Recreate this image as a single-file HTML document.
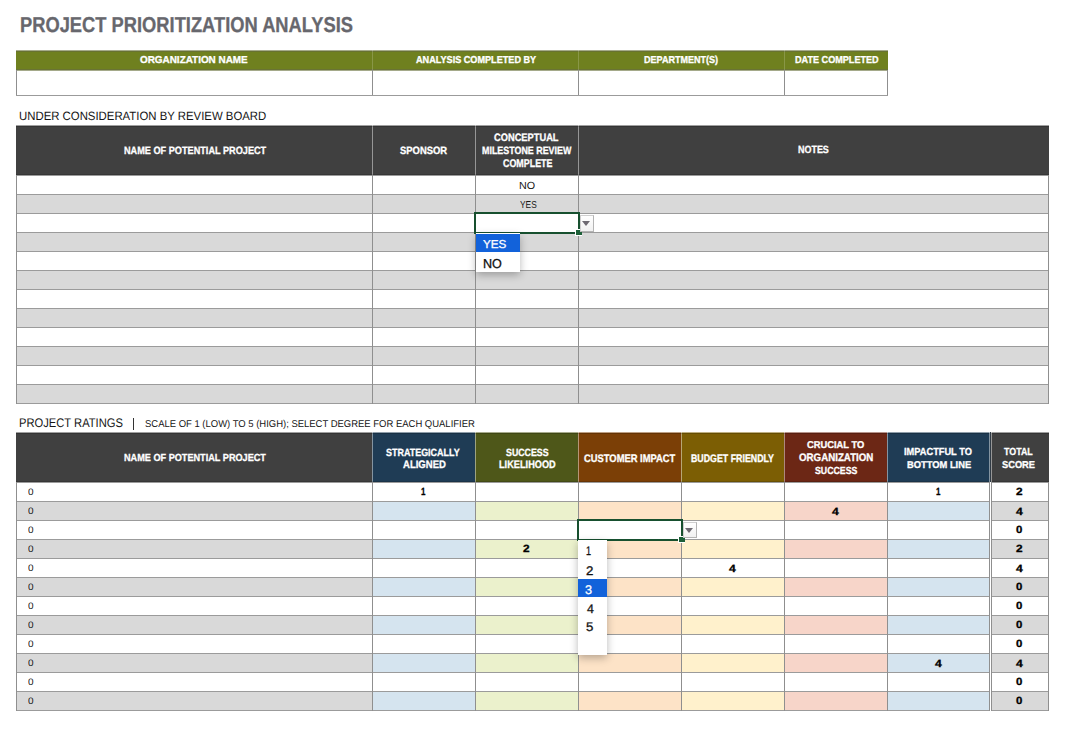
<!DOCTYPE html><html><head><meta charset="utf-8"><title>Project Prioritization Analysis</title><style>
html,body{margin:0;padding:0;background:#fff;width:1067px;height:737px;overflow:hidden}
body{position:relative;font-family:"Liberation Sans",sans-serif}
.r{position:absolute}
.t{position:absolute;white-space:nowrap;transform-origin:0 0;text-rendering:geometricPrecision}
.pt{-webkit-text-stroke:0.3px currentColor}
.bt{-webkit-text-stroke:0.3px currentColor}
.sel{position:absolute;border:2px solid #17502f}
.btn{position:absolute;border:1px solid #b4b4b4;border-top-color:#cfcfcf;border-left-color:#cfcfcf;background:linear-gradient(#ffffff,#f1f1f1)}
.tri{position:absolute;left:1px;top:5px;width:0;height:0;border-left:4.5px solid transparent;border-right:4.5px solid transparent;border-top:5px solid #6e6a72}
.pop{position:absolute;background:#fff;box-shadow:0 3px 8px rgba(0,0,0,0.28)}
.hl{position:absolute;left:0;right:0;background:#1262da}
</style></head><body>
<div class="r" style="left:16px;top:50px;width:872px;height:21px;background:#6f801f;"></div>
<div class="r" style="left:16px;top:50px;width:872px;height:1px;background:#a6ab8c;"></div>
<div class="r" style="left:16px;top:51px;width:872px;height:1px;background:#687231;"></div>
<div class="r" style="left:16px;top:69px;width:872px;height:1px;background:#697334;"></div>
<div class="r" style="left:16px;top:70px;width:872px;height:1px;background:#a5aa8a;"></div>
<div class="r" style="left:372px;top:50px;width:1px;height:20px;background:rgba(255,255,255,0.18);"></div>
<div class="r" style="left:578px;top:50px;width:1px;height:20px;background:rgba(255,255,255,0.18);"></div>
<div class="r" style="left:784px;top:50px;width:1px;height:20px;background:rgba(255,255,255,0.18);"></div>
<div class="r" style="left:16px;top:70px;width:1px;height:26px;background:#8f8f8f;"></div>
<div class="r" style="left:887px;top:70px;width:1px;height:26px;background:#8f8f8f;"></div>
<div class="r" style="left:372px;top:70px;width:1px;height:26px;background:#8f8f8f;"></div>
<div class="r" style="left:578px;top:70px;width:1px;height:26px;background:#8f8f8f;"></div>
<div class="r" style="left:784px;top:70px;width:1px;height:26px;background:#8f8f8f;"></div>
<div class="r" style="left:16px;top:95px;width:872px;height:1px;background:#9b9b9b;"></div>
<div class="r" style="left:16px;top:125px;width:1033px;height:50px;background:#404040;"></div>
<div class="r" style="left:372px;top:125px;width:1px;height:50px;background:rgba(255,255,255,0.45);"></div>
<div class="r" style="left:475px;top:125px;width:1px;height:50px;background:rgba(255,255,255,0.45);"></div>
<div class="r" style="left:578px;top:125px;width:1px;height:50px;background:rgba(255,255,255,0.45);"></div>
<div class="r" style="left:16px;top:125px;width:1033px;height:1px;background:rgba(255,255,255,0.5);"></div>
<div class="r" style="left:16px;top:126px;width:1033px;height:1px;background:rgba(0,0,0,0.18);"></div>
<div class="r" style="left:16px;top:174px;width:1033px;height:1px;background:rgba(0,0,0,0.15);"></div>
<div class="r" style="left:16px;top:175px;width:1033px;height:1px;background:#9b9b9b;"></div>
<div class="r" style="left:16px;top:194px;width:1033px;height:19px;background:#d9d9d9;"></div>
<div class="r" style="left:16px;top:232px;width:1033px;height:19px;background:#d9d9d9;"></div>
<div class="r" style="left:16px;top:270px;width:1033px;height:19px;background:#d9d9d9;"></div>
<div class="r" style="left:16px;top:308px;width:1033px;height:19px;background:#d9d9d9;"></div>
<div class="r" style="left:16px;top:346px;width:1033px;height:19px;background:#d9d9d9;"></div>
<div class="r" style="left:16px;top:384px;width:1033px;height:19px;background:#d9d9d9;"></div>
<div class="r" style="left:16px;top:194px;width:1033px;height:1px;background:#9b9b9b;"></div>
<div class="r" style="left:16px;top:213px;width:1033px;height:1px;background:#9b9b9b;"></div>
<div class="r" style="left:16px;top:232px;width:1033px;height:1px;background:#9b9b9b;"></div>
<div class="r" style="left:16px;top:251px;width:1033px;height:1px;background:#9b9b9b;"></div>
<div class="r" style="left:16px;top:270px;width:1033px;height:1px;background:#9b9b9b;"></div>
<div class="r" style="left:16px;top:289px;width:1033px;height:1px;background:#9b9b9b;"></div>
<div class="r" style="left:16px;top:308px;width:1033px;height:1px;background:#9b9b9b;"></div>
<div class="r" style="left:16px;top:327px;width:1033px;height:1px;background:#9b9b9b;"></div>
<div class="r" style="left:16px;top:346px;width:1033px;height:1px;background:#9b9b9b;"></div>
<div class="r" style="left:16px;top:365px;width:1033px;height:1px;background:#9b9b9b;"></div>
<div class="r" style="left:16px;top:384px;width:1033px;height:1px;background:#9b9b9b;"></div>
<div class="r" style="left:16px;top:403px;width:1033px;height:1px;background:#9b9b9b;"></div>
<div class="r" style="left:16px;top:175px;width:1px;height:229px;background:#8f8f8f;"></div>
<div class="r" style="left:372px;top:175px;width:1px;height:229px;background:#8f8f8f;"></div>
<div class="r" style="left:475px;top:175px;width:1px;height:229px;background:#8f8f8f;"></div>
<div class="r" style="left:578px;top:175px;width:1px;height:229px;background:#8f8f8f;"></div>
<div class="r" style="left:1048px;top:175px;width:1px;height:229px;background:#8f8f8f;"></div>
<div class="r" style="left:132.5px;top:418px;width:1.5px;height:12px;background:#333333;"></div>
<div class="r" style="left:16px;top:432px;width:356px;height:50px;background:#404040;"></div>
<div class="r" style="left:372px;top:432px;width:103px;height:50px;background:#1f3c55;"></div>
<div class="r" style="left:475px;top:432px;width:103px;height:50px;background:#4e5719;"></div>
<div class="r" style="left:578px;top:432px;width:103px;height:50px;background:#7b3f06;"></div>
<div class="r" style="left:681px;top:432px;width:103px;height:50px;background:#7c5e04;"></div>
<div class="r" style="left:784px;top:432px;width:103px;height:50px;background:#6c2715;"></div>
<div class="r" style="left:887px;top:432px;width:103px;height:50px;background:#1f3c55;"></div>
<div class="r" style="left:990px;top:432px;width:59px;height:50px;background:#404040;"></div>
<div class="r" style="left:372px;top:432px;width:1px;height:50px;background:rgba(255,255,255,0.45);"></div>
<div class="r" style="left:475px;top:432px;width:1px;height:50px;background:rgba(255,255,255,0.45);"></div>
<div class="r" style="left:578px;top:432px;width:1px;height:50px;background:rgba(255,255,255,0.45);"></div>
<div class="r" style="left:681px;top:432px;width:1px;height:50px;background:rgba(255,255,255,0.45);"></div>
<div class="r" style="left:784px;top:432px;width:1px;height:50px;background:rgba(255,255,255,0.45);"></div>
<div class="r" style="left:887px;top:432px;width:1px;height:50px;background:rgba(255,255,255,0.45);"></div>
<div class="r" style="left:16px;top:432px;width:1033px;height:1px;background:rgba(255,255,255,0.5);"></div>
<div class="r" style="left:16px;top:433px;width:1033px;height:1px;background:rgba(0,0,0,0.18);"></div>
<div class="r" style="left:16px;top:481px;width:1033px;height:1px;background:rgba(0,0,0,0.15);"></div>
<div class="r" style="left:16px;top:482px;width:1033px;height:1px;background:#9b9b9b;"></div>
<div class="r" style="left:989px;top:432px;width:1px;height:50px;background:rgba(255,255,255,0.45);"></div>
<div class="r" style="left:990px;top:432px;width:1px;height:50px;background:#303a44;"></div>
<div class="r" style="left:991px;top:432px;width:1px;height:50px;background:rgba(255,255,255,0.45);"></div>
<div class="r" style="left:16px;top:501px;width:356px;height:19px;background:#d9d9d9;"></div>
<div class="r" style="left:372px;top:501px;width:103px;height:19px;background:#d5e4ef;"></div>
<div class="r" style="left:475px;top:501px;width:103px;height:19px;background:#ebf1cc;"></div>
<div class="r" style="left:578px;top:501px;width:103px;height:19px;background:#fde3c7;"></div>
<div class="r" style="left:681px;top:501px;width:103px;height:19px;background:#fff1cc;"></div>
<div class="r" style="left:784px;top:501px;width:103px;height:19px;background:#f7d5c9;"></div>
<div class="r" style="left:887px;top:501px;width:103px;height:19px;background:#d5e4ef;"></div>
<div class="r" style="left:990px;top:501px;width:59px;height:19px;background:#d9d9d9;"></div>
<div class="r" style="left:16px;top:539px;width:356px;height:19px;background:#d9d9d9;"></div>
<div class="r" style="left:372px;top:539px;width:103px;height:19px;background:#d5e4ef;"></div>
<div class="r" style="left:475px;top:539px;width:103px;height:19px;background:#ebf1cc;"></div>
<div class="r" style="left:578px;top:539px;width:103px;height:19px;background:#fde3c7;"></div>
<div class="r" style="left:681px;top:539px;width:103px;height:19px;background:#fff1cc;"></div>
<div class="r" style="left:784px;top:539px;width:103px;height:19px;background:#f7d5c9;"></div>
<div class="r" style="left:887px;top:539px;width:103px;height:19px;background:#d5e4ef;"></div>
<div class="r" style="left:990px;top:539px;width:59px;height:19px;background:#d9d9d9;"></div>
<div class="r" style="left:16px;top:577px;width:356px;height:19px;background:#d9d9d9;"></div>
<div class="r" style="left:372px;top:577px;width:103px;height:19px;background:#d5e4ef;"></div>
<div class="r" style="left:475px;top:577px;width:103px;height:19px;background:#ebf1cc;"></div>
<div class="r" style="left:578px;top:577px;width:103px;height:19px;background:#fde3c7;"></div>
<div class="r" style="left:681px;top:577px;width:103px;height:19px;background:#fff1cc;"></div>
<div class="r" style="left:784px;top:577px;width:103px;height:19px;background:#f7d5c9;"></div>
<div class="r" style="left:887px;top:577px;width:103px;height:19px;background:#d5e4ef;"></div>
<div class="r" style="left:990px;top:577px;width:59px;height:19px;background:#d9d9d9;"></div>
<div class="r" style="left:16px;top:615px;width:356px;height:19px;background:#d9d9d9;"></div>
<div class="r" style="left:372px;top:615px;width:103px;height:19px;background:#d5e4ef;"></div>
<div class="r" style="left:475px;top:615px;width:103px;height:19px;background:#ebf1cc;"></div>
<div class="r" style="left:578px;top:615px;width:103px;height:19px;background:#fde3c7;"></div>
<div class="r" style="left:681px;top:615px;width:103px;height:19px;background:#fff1cc;"></div>
<div class="r" style="left:784px;top:615px;width:103px;height:19px;background:#f7d5c9;"></div>
<div class="r" style="left:887px;top:615px;width:103px;height:19px;background:#d5e4ef;"></div>
<div class="r" style="left:990px;top:615px;width:59px;height:19px;background:#d9d9d9;"></div>
<div class="r" style="left:16px;top:653px;width:356px;height:19px;background:#d9d9d9;"></div>
<div class="r" style="left:372px;top:653px;width:103px;height:19px;background:#d5e4ef;"></div>
<div class="r" style="left:475px;top:653px;width:103px;height:19px;background:#ebf1cc;"></div>
<div class="r" style="left:578px;top:653px;width:103px;height:19px;background:#fde3c7;"></div>
<div class="r" style="left:681px;top:653px;width:103px;height:19px;background:#fff1cc;"></div>
<div class="r" style="left:784px;top:653px;width:103px;height:19px;background:#f7d5c9;"></div>
<div class="r" style="left:887px;top:653px;width:103px;height:19px;background:#d5e4ef;"></div>
<div class="r" style="left:990px;top:653px;width:59px;height:19px;background:#d9d9d9;"></div>
<div class="r" style="left:16px;top:691px;width:356px;height:19px;background:#d9d9d9;"></div>
<div class="r" style="left:372px;top:691px;width:103px;height:19px;background:#d5e4ef;"></div>
<div class="r" style="left:475px;top:691px;width:103px;height:19px;background:#ebf1cc;"></div>
<div class="r" style="left:578px;top:691px;width:103px;height:19px;background:#fde3c7;"></div>
<div class="r" style="left:681px;top:691px;width:103px;height:19px;background:#fff1cc;"></div>
<div class="r" style="left:784px;top:691px;width:103px;height:19px;background:#f7d5c9;"></div>
<div class="r" style="left:887px;top:691px;width:103px;height:19px;background:#d5e4ef;"></div>
<div class="r" style="left:990px;top:691px;width:59px;height:19px;background:#d9d9d9;"></div>
<div class="r" style="left:16px;top:501px;width:1033px;height:1px;background:#9b9b9b;"></div>
<div class="r" style="left:16px;top:520px;width:1033px;height:1px;background:#9b9b9b;"></div>
<div class="r" style="left:16px;top:539px;width:1033px;height:1px;background:#9b9b9b;"></div>
<div class="r" style="left:16px;top:558px;width:1033px;height:1px;background:#9b9b9b;"></div>
<div class="r" style="left:16px;top:577px;width:1033px;height:1px;background:#9b9b9b;"></div>
<div class="r" style="left:16px;top:596px;width:1033px;height:1px;background:#9b9b9b;"></div>
<div class="r" style="left:16px;top:615px;width:1033px;height:1px;background:#9b9b9b;"></div>
<div class="r" style="left:16px;top:634px;width:1033px;height:1px;background:#9b9b9b;"></div>
<div class="r" style="left:16px;top:653px;width:1033px;height:1px;background:#9b9b9b;"></div>
<div class="r" style="left:16px;top:672px;width:1033px;height:1px;background:#9b9b9b;"></div>
<div class="r" style="left:16px;top:691px;width:1033px;height:1px;background:#9b9b9b;"></div>
<div class="r" style="left:16px;top:710px;width:1033px;height:1px;background:#9b9b9b;"></div>
<div class="r" style="left:16px;top:482px;width:1px;height:229px;background:#8f8f8f;"></div>
<div class="r" style="left:372px;top:482px;width:1px;height:229px;background:#8f8f8f;"></div>
<div class="r" style="left:475px;top:482px;width:1px;height:229px;background:#8f8f8f;"></div>
<div class="r" style="left:578px;top:482px;width:1px;height:229px;background:#8f8f8f;"></div>
<div class="r" style="left:681px;top:482px;width:1px;height:229px;background:#8f8f8f;"></div>
<div class="r" style="left:784px;top:482px;width:1px;height:229px;background:#8f8f8f;"></div>
<div class="r" style="left:887px;top:482px;width:1px;height:229px;background:#8f8f8f;"></div>
<div class="r" style="left:989px;top:482px;width:1px;height:229px;background:#8f8f8f;"></div>
<div class="r" style="left:991px;top:482px;width:1px;height:229px;background:#8f8f8f;"></div>
<div class="r" style="left:1048px;top:482px;width:1px;height:229px;background:#8f8f8f;"></div>
<div class="r" style="left:990px;top:482px;width:1px;height:229px;background:#ffffff;"></div>
<div class="sel" style="left:474px;top:212px;width:102px;height:18px;"></div><div class="r" style="left:575px;top:229px;width:7px;height:7px;background:#fff"></div><div class="r" style="left:576px;top:230px;width:6px;height:5px;background:#1d6038"></div>
<div class="btn" style="left:580px;top:215px;width:12px;height:15px;"><div class="tri"></div></div>
<div class="sel" style="left:577px;top:519px;width:102px;height:18px;"></div><div class="r" style="left:678px;top:536px;width:7px;height:7px;background:#fff"></div><div class="r" style="left:679px;top:537px;width:6px;height:5px;background:#1d6038"></div>
<div class="btn" style="left:683px;top:522px;width:12px;height:14px;"><div class="tri"></div></div>
<div class="pop" style="left:476px;top:233px;width:44px;height:39px;"><div class="hl" style="top:1px;height:18px"></div></div>
<div class="pop" style="left:578px;top:540px;width:29px;height:115px;"><div class="hl" style="top:39px;height:18px"></div></div>
<span id="title" class="t bt" style="left:20.26px;top:4.45px;font-size:21.512px;line-height:43px;font-weight:bold;color:#67676d;transform:scaleX(0.8517)">PROJECT PRIORITIZATION ANALYSIS</span>
<span id="h1a" class="t bt" style="left:140.24px;top:51.40px;font-size:10.029px;line-height:20px;font-weight:bold;color:#ffffff;transform:scaleX(0.9891)">ORGANIZATION NAME</span>
<span id="h1b" class="t bt" style="left:415.86px;top:51.40px;font-size:10.029px;line-height:20px;font-weight:bold;color:#ffffff;transform:scaleX(0.9099)">ANALYSIS COMPLETED BY</span>
<span id="h1c" class="t bt" style="left:644.20px;top:51.40px;font-size:10.029px;line-height:20px;font-weight:bold;color:#ffffff;transform:scaleX(0.9016)">DEPARTMENT(S)</span>
<span id="h1d" class="t bt" style="left:794.50px;top:51.40px;font-size:10.029px;line-height:20px;font-weight:bold;color:#ffffff;transform:scaleX(0.9072)">DATE COMPLETED</span>
<span id="lab1" class="t" style="left:19.06px;top:104.26px;font-size:12.064px;line-height:24px;color:#161616;transform:scaleX(0.9440)">UNDER CONSIDERATION BY REVIEW BOARD</span>
<span id="h2a" class="t bt" style="left:123.75px;top:140.73px;font-size:10.611px;line-height:21px;font-weight:bold;color:#ffffff;transform:scaleX(0.8627)">NAME OF POTENTIAL PROJECT</span>
<span id="h2b" class="t bt" style="left:399.98px;top:141.42px;font-size:10.611px;line-height:21px;font-weight:bold;color:#ffffff;transform:scaleX(0.8887)">SPONSOR</span>
<span id="h2c1" class="t bt" style="left:494.20px;top:127.49px;font-size:10.756px;line-height:22px;font-weight:bold;color:#ffffff;transform:scaleX(0.8644)">CONCEPTUAL</span>
<span id="h2c2" class="t bt" style="left:482.43px;top:141.39px;font-size:10.611px;line-height:21px;font-weight:bold;color:#ffffff;transform:scaleX(0.8385)">MILESTONE REVIEW</span>
<span id="h2c3" class="t bt" style="left:503.11px;top:153.04px;font-size:11.192px;line-height:22px;font-weight:bold;color:#ffffff;transform:scaleX(0.7960)">COMPLETE</span>
<span id="h2d" class="t bt" style="left:798.09px;top:140.41px;font-size:10.465px;line-height:21px;font-weight:bold;color:#ffffff;transform:scaleX(0.8560)">NOTES</span>
<span id="c_no" class="t" style="left:519.14px;top:176.15px;font-size:10.320px;line-height:21px;color:#161616;transform:scaleX(1.0433)">NO</span>
<span id="c_yes" class="t" style="left:519.96px;top:195.67px;font-size:10.029px;line-height:20px;color:#161616;transform:scaleX(0.8334)">YES</span>
<span id="p_yes" class="t pt" style="left:483.42px;top:234.40px;font-size:11.483px;line-height:23px;color:#ffffff;transform:scaleX(1.0175)">YES</span>
<span id="p_no" class="t pt" style="left:483.47px;top:250.51px;font-size:12.936px;line-height:26px;color:#111111;transform:scaleX(0.9741)">NO</span>
<span id="lab2" class="t" style="left:19.01px;top:411.36px;font-size:12.500px;line-height:25px;color:#161616;transform:scaleX(0.8945)">PROJECT RATINGS</span>
<span id="lab2s" class="t" style="left:145.01px;top:415.36px;font-size:9.884px;line-height:20px;color:#161616;transform:scaleX(0.9587)">SCALE OF 1 (LOW) TO 5 (HIGH); SELECT DEGREE FOR EACH QUALIFIER</span>
<span id="h3a" class="t bt" style="left:123.75px;top:447.84px;font-size:10.320px;line-height:21px;font-weight:bold;color:#ffffff;transform:scaleX(0.8858)">NAME OF POTENTIAL PROJECT</span>
<span id="h3b1" class="t bt" style="left:386.19px;top:442.71px;font-size:10.465px;line-height:21px;font-weight:bold;color:#ffffff;transform:scaleX(0.8567)">STRATEGICALLY</span>
<span id="h3b2" class="t bt" style="left:402.71px;top:454.39px;font-size:10.756px;line-height:22px;font-weight:bold;color:#ffffff;transform:scaleX(0.8870)">ALIGNED</span>
<span id="h3c1" class="t bt" style="left:505.55px;top:442.71px;font-size:10.465px;line-height:21px;font-weight:bold;color:#ffffff;transform:scaleX(0.8432)">SUCCESS</span>
<span id="h3c2" class="t bt" style="left:498.87px;top:454.39px;font-size:10.756px;line-height:22px;font-weight:bold;color:#ffffff;transform:scaleX(0.8560)">LIKELIHOOD</span>
<span id="h3d" class="t bt" style="left:583.59px;top:447.69px;font-size:10.901px;line-height:22px;font-weight:bold;color:#ffffff;transform:scaleX(0.8609)">CUSTOMER IMPACT</span>
<span id="h3e" class="t bt" style="left:690.50px;top:447.69px;font-size:10.901px;line-height:22px;font-weight:bold;color:#ffffff;transform:scaleX(0.8096)">BUDGET FRIENDLY</span>
<span id="h3f1" class="t bt" style="left:807.18px;top:435.79px;font-size:9.884px;line-height:20px;font-weight:bold;color:#ffffff;transform:scaleX(0.9460)">CRUCIAL TO</span>
<span id="h3f2" class="t bt" style="left:798.93px;top:447.09px;font-size:10.901px;line-height:22px;font-weight:bold;color:#ffffff;transform:scaleX(0.8927)">ORGANIZATION</span>
<span id="h3f3" class="t bt" style="left:815.34px;top:460.51px;font-size:10.320px;line-height:21px;font-weight:bold;color:#ffffff;transform:scaleX(0.8495)">SUCCESS</span>
<span id="h3g1" class="t bt" style="left:904.42px;top:441.53px;font-size:10.320px;line-height:21px;font-weight:bold;color:#ffffff;transform:scaleX(0.8974)">IMPACTFUL TO</span>
<span id="h3g2" class="t bt" style="left:906.91px;top:456.40px;font-size:9.884px;line-height:20px;font-weight:bold;color:#ffffff;transform:scaleX(0.9463)">BOTTOM LINE</span>
<span id="h3h1" class="t bt" style="left:1004.49px;top:441.52px;font-size:10.320px;line-height:21px;font-weight:bold;color:#ffffff;transform:scaleX(0.8582)">TOTAL</span>
<span id="h3h2" class="t bt" style="left:1002.06px;top:456.30px;font-size:10.029px;line-height:20px;font-weight:bold;color:#ffffff;transform:scaleX(0.9269)">SCORE</span>
<span id="a0" class="t" style="left:27.76px;top:482.74px;font-size:9.448px;line-height:19px;color:#161616;transform:scaleX(1.0597)">0</span>
<span id="v0B" class="t bt" style="left:420.80px;top:482.37px;font-size:10.465px;line-height:21px;font-weight:bold;color:#000000;transform:scaleX(0.7646)">1</span>
<span id="v0G" class="t bt" style="left:935.80px;top:482.37px;font-size:10.465px;line-height:21px;font-weight:bold;color:#000000;transform:scaleX(0.7646)">1</span>
<span id="t0" class="t bt" style="left:1015.95px;top:482.33px;font-size:10.465px;line-height:21px;font-weight:bold;color:#000000;transform:scaleX(1.1352)">2</span>
<span id="a1" class="t" style="left:27.76px;top:501.73px;font-size:9.448px;line-height:19px;color:#161616;transform:scaleX(1.0608)">0</span>
<span id="v1F" class="t bt" style="left:831.83px;top:501.57px;font-size:10.465px;line-height:21px;font-weight:bold;color:#000000;transform:scaleX(1.1636)">4</span>
<span id="t1" class="t bt" style="left:1015.85px;top:501.57px;font-size:10.465px;line-height:21px;font-weight:bold;color:#000000;transform:scaleX(1.1621)">4</span>
<span id="a2" class="t" style="left:27.76px;top:520.74px;font-size:9.448px;line-height:19px;color:#161616;transform:scaleX(1.0597)">0</span>
<span id="t2" class="t bt" style="left:1016.46px;top:520.35px;font-size:10.465px;line-height:21px;font-weight:bold;color:#000000;transform:scaleX(1.0930)">0</span>
<span id="a3" class="t" style="left:27.76px;top:539.73px;font-size:9.448px;line-height:19px;color:#161616;transform:scaleX(1.0608)">0</span>
<span id="v3C" class="t bt" style="left:522.94px;top:539.33px;font-size:10.465px;line-height:21px;font-weight:bold;color:#000000;transform:scaleX(1.1350)">2</span>
<span id="t3" class="t bt" style="left:1015.95px;top:539.33px;font-size:10.465px;line-height:21px;font-weight:bold;color:#000000;transform:scaleX(1.1344)">2</span>
<span id="a4" class="t" style="left:27.76px;top:558.74px;font-size:9.448px;line-height:19px;color:#161616;transform:scaleX(1.0597)">0</span>
<span id="v4E" class="t bt" style="left:728.86px;top:558.56px;font-size:10.465px;line-height:21px;font-weight:bold;color:#000000;transform:scaleX(1.1612)">4</span>
<span id="t4" class="t bt" style="left:1015.86px;top:558.56px;font-size:10.465px;line-height:21px;font-weight:bold;color:#000000;transform:scaleX(1.1612)">4</span>
<span id="a5" class="t" style="left:27.76px;top:577.73px;font-size:9.448px;line-height:19px;color:#161616;transform:scaleX(1.0608)">0</span>
<span id="t5" class="t bt" style="left:1016.47px;top:577.35px;font-size:10.465px;line-height:21px;font-weight:bold;color:#000000;transform:scaleX(1.0906)">0</span>
<span id="a6" class="t" style="left:27.76px;top:596.74px;font-size:9.448px;line-height:19px;color:#161616;transform:scaleX(1.0597)">0</span>
<span id="t6" class="t bt" style="left:1016.46px;top:596.35px;font-size:10.465px;line-height:21px;font-weight:bold;color:#000000;transform:scaleX(1.0930)">0</span>
<span id="a7" class="t" style="left:27.76px;top:615.73px;font-size:9.448px;line-height:19px;color:#161616;transform:scaleX(1.0608)">0</span>
<span id="t7" class="t bt" style="left:1016.47px;top:615.35px;font-size:10.465px;line-height:21px;font-weight:bold;color:#000000;transform:scaleX(1.0906)">0</span>
<span id="a8" class="t" style="left:27.76px;top:634.74px;font-size:9.448px;line-height:19px;color:#161616;transform:scaleX(1.0597)">0</span>
<span id="t8" class="t bt" style="left:1016.46px;top:634.35px;font-size:10.465px;line-height:21px;font-weight:bold;color:#000000;transform:scaleX(1.0930)">0</span>
<span id="a9" class="t" style="left:27.76px;top:653.73px;font-size:9.448px;line-height:19px;color:#161616;transform:scaleX(1.0608)">0</span>
<span id="v9G" class="t bt" style="left:934.87px;top:653.56px;font-size:10.465px;line-height:21px;font-weight:bold;color:#000000;transform:scaleX(1.1611)">4</span>
<span id="t9" class="t bt" style="left:1015.85px;top:653.57px;font-size:10.465px;line-height:21px;font-weight:bold;color:#000000;transform:scaleX(1.1621)">4</span>
<span id="a10" class="t" style="left:27.76px;top:672.74px;font-size:9.448px;line-height:19px;color:#161616;transform:scaleX(1.0597)">0</span>
<span id="t10" class="t bt" style="left:1016.46px;top:672.35px;font-size:10.465px;line-height:21px;font-weight:bold;color:#000000;transform:scaleX(1.0930)">0</span>
<span id="a11" class="t" style="left:27.76px;top:691.73px;font-size:9.448px;line-height:19px;color:#161616;transform:scaleX(1.0608)">0</span>
<span id="t11" class="t bt" style="left:1016.47px;top:691.35px;font-size:10.465px;line-height:21px;font-weight:bold;color:#000000;transform:scaleX(1.0906)">0</span>
<span id="pn1" class="t pt" style="left:585.51px;top:539.38px;font-size:12.500px;line-height:25px;color:#111111;transform:scaleX(0.7255)">1</span>
<span id="pn2" class="t pt" style="left:585.58px;top:558.72px;font-size:12.500px;line-height:25px;color:#111111;transform:scaleX(1.0633)">2</span>
<span id="pn3" class="t pt" style="left:585.47px;top:577.58px;font-size:12.500px;line-height:25px;color:#ffffff;transform:scaleX(1.0150)">3</span>
<span id="pn4" class="t pt" style="left:587.00px;top:596.50px;font-size:12.500px;line-height:25px;color:#111111;transform:scaleX(0.9916)">4</span>
<span id="pn5" class="t pt" style="left:585.64px;top:615.45px;font-size:12.500px;line-height:25px;color:#111111;transform:scaleX(1.0579)">5</span>
</body></html>
